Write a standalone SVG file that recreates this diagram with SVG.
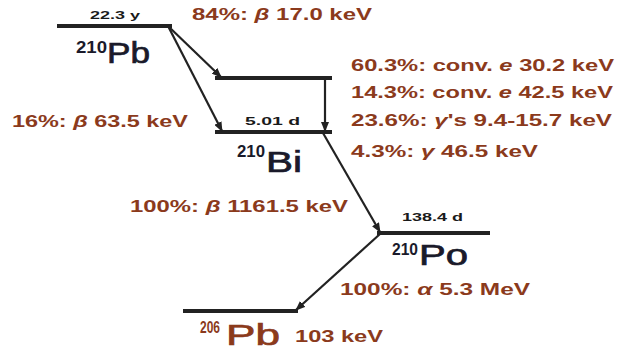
<svg xmlns="http://www.w3.org/2000/svg" width="621" height="354" viewBox="0 0 621 354">
<defs>
<marker id="ah" markerWidth="10" markerHeight="8" refX="9" refY="4" orient="auto" markerUnits="userSpaceOnUse">
<path d="M0,0 L10,4 L0,8 z" fill="#222"/>
</marker>
</defs>
<style>
.lvl{stroke:#222;stroke-width:4;fill:none}
.arr{stroke:#222;stroke-width:2.2;fill:none;marker-end:url(#ah)}
.red{font-family:"Liberation Sans",Arial,sans-serif;font-weight:bold;font-size:17px;fill:#8b3a1c}
.hl{font-family:"Liberation Sans",Arial,sans-serif;font-weight:bold;font-size:11px;fill:#1a1a1a}
.nuc{font-family:"Liberation Sans",Arial,sans-serif;font-size:29px;fill:#1a1a2a;stroke:#1a1a2a;stroke-width:0.7}
.sup{font-family:"Liberation Sans",Arial,sans-serif;font-weight:bold;font-size:16px;fill:#1a1a2a}
.nucr{fill:#8b3a1c;stroke:#8b3a1c}
</style>
<rect width="621" height="354" fill="#fff"/>
<g id="pb210">
<line class="lvl" x1="57" y1="26" x2="172" y2="26"/>
<text class="hl" x="90" y="19" textLength="50" lengthAdjust="spacingAndGlyphs">22.3 y</text>
<text class="sup" x="76" y="53" textLength="31" lengthAdjust="spacingAndGlyphs">210</text>
<text class="nuc" x="107" y="63" textLength="43" lengthAdjust="spacingAndGlyphs">Pb</text>
</g>
<g id="bi210-excited">
<line class="lvl" x1="215" y1="78" x2="332" y2="78"/>
</g>
<g id="bi210">
<line class="lvl" x1="215" y1="132" x2="332" y2="132"/>
<text class="hl" x="245" y="125" textLength="55" lengthAdjust="spacingAndGlyphs">5.01 d</text>
<text class="sup" x="237" y="157" textLength="28" lengthAdjust="spacingAndGlyphs">210</text>
<text class="nuc" x="266" y="172" textLength="36" lengthAdjust="spacingAndGlyphs">Bi</text>
</g>
<g id="po210">
<line class="lvl" x1="377" y1="233" x2="490" y2="233"/>
<text class="hl" x="402" y="221" textLength="61" lengthAdjust="spacingAndGlyphs">138.4 d</text>
<text class="sup" x="392" y="255" textLength="26" lengthAdjust="spacingAndGlyphs">210</text>
<text class="nuc" x="419" y="265" textLength="49" lengthAdjust="spacingAndGlyphs">Po</text>
</g>
<g id="pb206">
<line class="lvl" x1="183" y1="311" x2="298" y2="311"/>
<text class="sup nucr" x="200" y="333" textLength="20" lengthAdjust="spacingAndGlyphs" font-size="13" stroke-width="0">206</text>
<text class="nuc nucr" x="226" y="345" textLength="54" lengthAdjust="spacingAndGlyphs">Pb</text>
<text class="red" x="295" y="342" textLength="88" lengthAdjust="spacingAndGlyphs">103 keV</text>
</g>
<g id="connectors">
<line class="arr" x1="168" y1="26" x2="221" y2="77"/>
<line class="arr" x1="168" y1="26" x2="222" y2="131"/>
<line class="arr" x1="325" y1="79" x2="325" y2="131"/>
<line class="arr" x1="323" y1="133" x2="380" y2="232"/>
<line class="arr" x1="380" y1="234" x2="296" y2="310"/>
</g>
<g id="labels">
<text class="red" x="192" y="20" textLength="180" lengthAdjust="spacingAndGlyphs">84%: <tspan font-style="italic">β</tspan> 17.0 keV</text>
<text class="red" x="12" y="127" textLength="176" lengthAdjust="spacingAndGlyphs">16%: <tspan font-style="italic">β</tspan> 63.5 keV</text>
<text class="red" x="351" y="71" textLength="263" lengthAdjust="spacingAndGlyphs">60.3%: conv. <tspan font-style="italic">e</tspan> 30.2 keV</text>
<text class="red" x="351" y="98" textLength="262" lengthAdjust="spacingAndGlyphs">14.3%: conv. <tspan font-style="italic">e</tspan> 42.5 keV</text>
<text class="red" x="351" y="126" textLength="261" lengthAdjust="spacingAndGlyphs">23.6%: <tspan font-style="italic">γ</tspan>'s 9.4-15.7 keV</text>
<text class="red" x="351" y="157" textLength="187" lengthAdjust="spacingAndGlyphs">4.3%: <tspan font-style="italic">γ</tspan> 46.5 keV</text>
<text class="red" x="130" y="212" textLength="218" lengthAdjust="spacingAndGlyphs">100%: <tspan font-style="italic">β</tspan> 1161.5 keV</text>
<text class="red" x="340" y="295" textLength="190" lengthAdjust="spacingAndGlyphs">100%: <tspan font-style="italic">α</tspan> 5.3 MeV</text>
</g>
</svg>
